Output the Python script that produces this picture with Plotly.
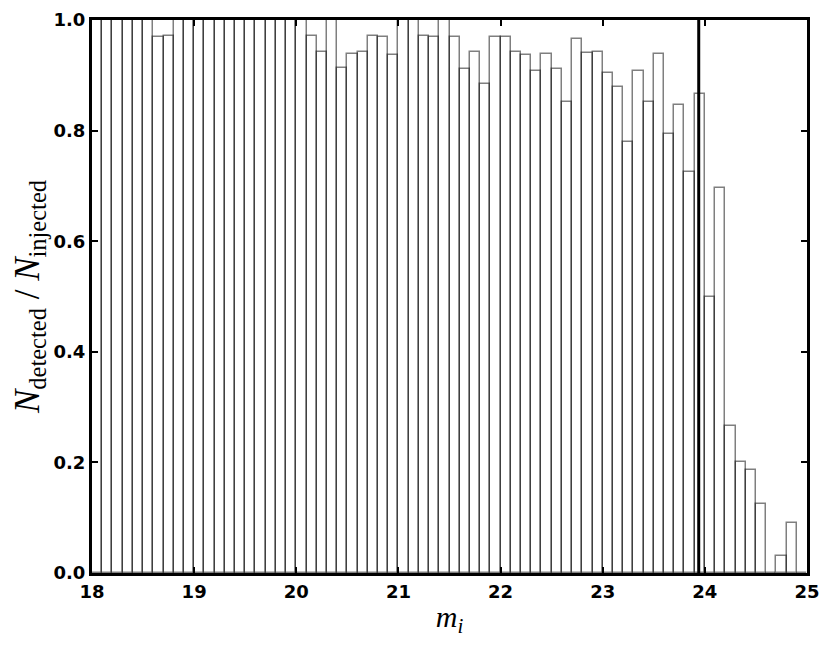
import plotly.graph_objects as go

# =============================================================================
#                                 DATA
# =============================================================================
# detection fraction per magnitude bin (bins of 0.1 mag from 18.0 to 25.0)
bin_start = 18.0
bin_width = 0.1
frac_detected = [
    1.0, 1.0, 1.0, 1.0, 1.0, 1.0, 0.970, 0.971, 1.0, 1.0,          # 18.0 - 18.9
    1.0, 1.0, 1.0, 1.0, 1.0, 1.0, 1.0, 1.0, 1.0, 1.0,              # 19.0 - 19.9
    1.0, 0.971, 0.942, 1.0, 0.914, 0.939, 0.942, 0.971, 0.970, 0.937,  # 20.0 - 20.9
    1.0, 1.0, 0.971, 0.969, 1.0, 0.970, 0.911, 0.942, 0.885, 0.969,    # 21.0 - 21.9
    0.969, 0.942, 0.937, 0.908, 0.939, 0.911, 0.852, 0.966, 0.941, 0.942,  # 22.0 - 22.9
    0.905, 0.878, 0.780, 0.908, 0.852, 0.939, 0.793, 0.847, 0.726, 0.866,  # 23.0 - 23.9
    0.500, 0.697, 0.265, 0.200, 0.186, 0.124, 0.0, 0.031, 0.090, 0.0,      # 24.0 - 24.9
]
mag_limit = 23.94          # vertical line

x_ticks = [18, 19, 20, 21, 22, 23, 24, 25]
y_ticks = [0.0, 0.2, 0.4, 0.6, 0.8, 1.0]

bin_left = [round(bin_start + i * bin_width, 2) for i in range(len(frac_detected))]

# =============================================================================
#                                 PLOT
# =============================================================================
fig = go.Figure()
fig.add_trace(go.Bar(x=bin_left, y=frac_detected,
                     width=bin_width, offset=0,
                     marker=dict(color='rgba(0,0,0,0)',
                                 line=dict(color='rgba(0,0,0,0.5)', width=1.5)),
                     showlegend=False))

fig.add_shape(type='line', x0=mag_limit, x1=mag_limit, y0=0, y1=1,
              xref='x', yref='paper', line=dict(color='black', width=3))

tick_font = dict(family='DejaVu Sans', size=18, color='black', weight='bold')
axis_common = dict(showline=True, linecolor='black', linewidth=3, mirror='allticks',
                   ticks='inside', ticklen=6, tickwidth=1.5, tickcolor='black',
                   showgrid=False, zeroline=False, tickfont=tick_font,
                   automargin=False)

fig.update_xaxes(range=[18, 25], tickvals=x_ticks, **axis_common,
                 title=dict(text='<i>m</i><sub><i>i</i></sub>',
                            font=dict(family='Liberation Serif', size=30, color='black'),
                            standoff=6))
fig.update_yaxes(range=[0, 1], tickvals=y_ticks, tickformat='.1f', **axis_common,
                 title=dict(text='<i>N</i><sub>detected</sub> / <i>N</i><sub>injected</sub>',
                            font=dict(family='Liberation Serif', size=35, color='black'),
                            standoff=10))

# page body adds 8 px offset, so margins are shifted accordingly
fig.update_layout(width=831, height=646,
                  margin=dict(l=84, r=32, t=12, b=81),
                  plot_bgcolor='white', paper_bgcolor='white',
                  bargap=0)

fig.write_html("out.html")
